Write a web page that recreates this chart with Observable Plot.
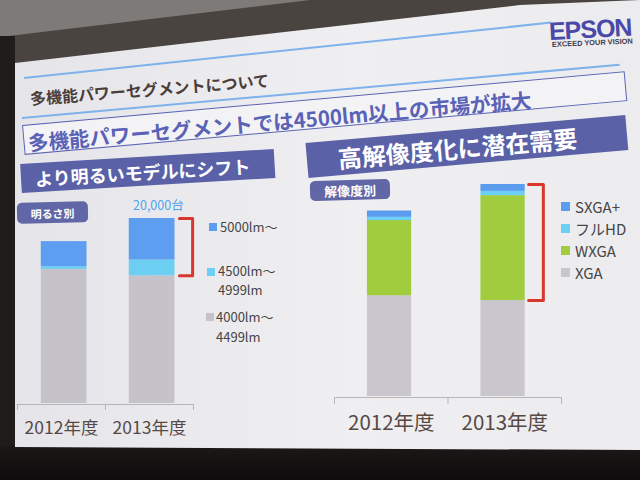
<!DOCTYPE html>
<html>
<head>
<meta charset="utf-8">
<script src="https://cdn.jsdelivr.net/npm/d3@7"></script>
<script src="https://cdn.jsdelivr.net/npm/@observablehq/plot@0.6"></script>
<style>
  html, body { margin: 0; padding: 0; }
  body { width: 640px; height: 480px; overflow: hidden; position: relative;
         background: #4a4440; font-family: "Noto Sans CJK JP", "Noto Sans", sans-serif; }
  .abs { position: absolute; }
  #housing { left: 0; top: 0; width: 640px; height: 480px; background: #7d7a77;
             clip-path: polygon(0px 0px, 310px 0px, 0px 37px); }
  #leftstrip { left: 0; top: 36px; width: 15px; height: 444px; background: #1f1c1b; }
  #bottom { left: 0; top: 446px; width: 640px; height: 34px; background: linear-gradient(#1b1817, #0e0c0c); }
  #slide { left: 0; top: 0; width: 640px; height: 480px;
           background: linear-gradient(to right, #e5e5e9, #efeff2 55%, #ececef);
           clip-path: polygon(15px 63px, 520px 5px, 640px 0px, 640px 450px, 15px 447px); }
  .rot { transform-origin: 0 50%; white-space: nowrap; }
  .line { height: 2px; background: #7fb2ea; }
  .banner { background: #5a61a7; color: #fff; font-weight: 700; box-sizing: border-box; display: flex; align-items: center; }
  .tag { background: #6166a6; color: #fff; font-weight: 700; border-radius: 5px; display: flex; align-items: center; justify-content: center; }
  .sq { width: 8px; height: 8px; }
  .lg { color: #474545; white-space: nowrap; line-height: 1; }
</style>
</head>
<body>
<div id="housing" class="abs"></div>
<div id="leftstrip" class="abs"></div>
<div id="bottom" class="abs"></div>
<div id="slide" class="abs"></div>

<!-- header -->
<div class="abs rot line" style="left:24px; top:77px; width:530px; transform: rotate(-6deg);"></div>
<div class="abs rot" style="left:30px; top:87px; height:22px; line-height:22px; font-size:16px; font-weight:700; color:#4b3d3a; transform: rotate(-4.4deg);">多機能パワーセグメントについて</div>
<div class="abs rot line" style="left:22px; top:117px; width:600px; transform: rotate(-5.1deg);"></div>
<div class="abs" style="left:22px; top:125px; width:605px; height:30px; box-sizing:border-box; border:1.5px solid #5c63b3; background:#f3f3f6; transform-origin: 0 0; transform: rotate(-5.1deg);"></div>
<div class="abs rot" style="left:28px; top:128px; height:28px; line-height:28px; font-size:20.5px; font-weight:700; color:#5a62b6; transform: rotate(-4.9deg);">多機能パワーセグメントでは4500lm以上の市場が拡大</div>
<div class="abs rot banner" style="left:21px; top:164px; width:254px; height:29px; padding-left:14px; font-size:18px; transform: rotate(-3.4deg);">より明るいモデルにシフト</div>
<div class="abs rot banner" style="left:307px; top:143px; width:321px; height:35px; padding-left:31px; font-size:24px; transform: rotate(-5deg);">高解像度化に潜在需要</div>

<!-- logo -->
<div class="abs" style="left:549px; top:17px; font-family:'Liberation Sans', Arial, sans-serif; font-weight:700; font-size:25px; letter-spacing:-1px; color:#4a49a8; transform-origin:0 50%; transform: rotate(-3deg);">EPSON</div>
<div class="abs" style="left:552px; top:40px; font-family:'Liberation Sans', Arial, sans-serif; font-weight:700; font-size:7.4px; color:#3d3d4a; white-space:nowrap; transform-origin:0 50%; transform: rotate(-2.5deg);">EXCEED YOUR VISION</div>

<!-- tags -->
<div class="abs tag" style="left:17px; top:202px; width:71px; height:21px; font-size:11px; transform: rotate(-1.3deg);">明るさ別</div>
<div class="abs tag" style="left:310px; top:180px; width:80px; height:20px; font-size:13px; transform: rotate(-1.5deg);">解像度別</div>

<div id="total" class="abs" style="left:133px; top:197px; font-size:12.5px; color:#4fa3ee; line-height:16px;"></div>

<div id="leftChart" class="abs" style="left:12px; top:190px;"></div>
<div id="rightChart" class="abs" style="left:329px; top:160px;"></div>
<div id="leftLegend"></div>
<div id="rightLegend"></div>

<script>
// ---------- data ----------
const years = ["2012年度", "2013年度"];

// brightness segments (units)
const brightNames = ["4000lm～4499lm", "4500lm～4999lm", "5000lm～"];
const bright4000 = [14500, 13800];
const bright4500 = [300, 1700];
const bright5000 = [2700, 4500];
const brightColors = ["#c5c3c9", "#6ccff2", "#5e9ef0"];
const brightLegendLines = [["5000lm～"], ["4500lm～", "4999lm"], ["4000lm～", "4499lm"]];

// resolution segments (units)
const resNames = ["XGA", "WXGA", "フルHD", "SXGA+"];
const resXGA = [9500, 9050];
const resWXGA = [7100, 9900];
const resFullHD = [300, 400];
const resSXGA = [600, 650];
const resColors = ["#c9c7cd", "#a1cc3e", "#6bd0f3", "#5b9cee"];

const totalLabel = "20,000台";

// ---------- helpers ----------
function stackRows(seriesList, names) {
  const rows = [];
  years.forEach((yr, i) => {
    let acc = 0;
    seriesList.forEach((s, k) => {
      rows.push({i, year: yr, seg: names[k], y1: acc, y2: acc + s[i]});
      acc += s[i];
    });
  });
  return rows;
}
const axisColor = "#b8b4ba";
const labelColor = "#574844";
const bracketColor = "#d8372c";
const font = "'Noto Sans CJK JP', 'Noto Sans', sans-serif";

// ---------- left chart ----------
const leftRows = stackRows([bright4000, bright4500, bright5000], brightNames);
const leftTotal2013 = bright4000[1] + bright4500[1] + bright5000[1];
const leftBracket = [[1.34, leftTotal2013], [1.49, leftTotal2013], [1.49, bright4000[1]], [1.34, bright4000[1]]];

const leftChart = Plot.plot({
  width: 186, height: 260,
  marginLeft: 5, marginRight: 5, marginTop: 28, marginBottom: 47,
  x: {domain: [-0.5, 1.5], axis: null},
  y: {domain: [0, 20000], axis: null},
  color: {domain: brightNames, range: brightColors},
  style: {background: "transparent", fontFamily: font, overflow: "visible"},
  marks: [
    Plot.rectY(leftRows, {x1: d => d.i - 0.23, x2: d => d.i + 0.29, y1: "y1", y2: "y2", fill: "seg"}),
    Plot.ruleY([0], {stroke: axisColor, dy: 1}),
    Plot.axisX([-0.5, 0.5, 1.5], {tickSize: 6, tickFormat: () => "", stroke: axisColor, dy: 1, label: null}),
    Plot.text(years, {x: (d, i) => i, text: d => d, frameAnchor: "bottom", dy: 30, fontSize: 17.5, fill: labelColor}),
    Plot.line(leftBracket, {x: d => d[0], y: d => d[1], stroke: bracketColor, strokeWidth: 3, strokeLinejoin: "round"})
  ]
});
document.getElementById("leftChart").append(leftChart);

// ---------- right chart ----------
const rightRows = stackRows([resXGA, resWXGA, resFullHD, resSXGA], resNames);
const rightTotal2013 = resXGA[1] + resWXGA[1] + resFullHD[1] + resSXGA[1];
const rightBracket = [[1.21, rightTotal2013], [1.34, rightTotal2013], [1.34, resXGA[1]], [1.21, resXGA[1]]];

const rightChart = Plot.plot({
  width: 237, height: 290,
  marginLeft: 5, marginRight: 5, marginTop: 24, marginBottom: 54,
  x: {domain: [-0.5, 1.5], axis: null},
  y: {domain: [0, 20000], axis: null},
  color: {domain: resNames, range: resColors},
  style: {background: "transparent", fontFamily: font, overflow: "visible"},
  marks: [
    Plot.rectY(rightRows, {x1: d => d.i - 0.21, x2: d => d.i + 0.18, y1: "y1", y2: "y2", fill: "seg"}),
    Plot.ruleY([0], {stroke: axisColor, dy: 1}),
    Plot.axisX([-0.5, 0.5, 1.5], {tickSize: 7, tickFormat: () => "", stroke: axisColor, dy: 1, label: null}),
    Plot.text(years, {x: (d, i) => i, text: d => d, frameAnchor: "bottom", dy: 33, fontSize: 20.5, fill: labelColor}),
    Plot.line(rightBracket, {x: d => d[0], y: d => d[1], stroke: bracketColor, strokeWidth: 3, strokeLinejoin: "round"})
  ]
});
document.getElementById("rightChart").append(rightChart);

document.getElementById("total").textContent = totalLabel;

// ---------- legends ----------
const leftLegendPos = [ {sq: [209, 223], text: [[220, 227]]},
                        {sq: [207, 268], text: [[218, 271], [218, 290]]},
                        {sq: [206, 313], text: [[216, 317], [216, 337]]} ];
const leftLegendColors = [brightColors[2], brightColors[1], brightColors[0]];
const ll = document.getElementById("leftLegend");
brightLegendLines.forEach((lines, k) => {
  const p = leftLegendPos[k];
  const s = document.createElement("div");
  s.className = "abs sq";
  s.style.left = p.sq[0] + "px"; s.style.top = p.sq[1] + "px";
  s.style.background = leftLegendColors[k];
  ll.append(s);
  lines.forEach((t, j) => {
    const d = document.createElement("div");
    d.className = "abs lg";
    d.style.left = p.text[j][0] + "px"; d.style.top = (p.text[j][1] - 7) + "px";
    d.style.fontSize = "13px";
    d.textContent = t;
    ll.append(d);
  });
});

const rightLegendOrder = ["SXGA+", "フルHD", "WXGA", "XGA"];
const rightLegendY = [207, 229, 251, 273];
const rl = document.getElementById("rightLegend");
rightLegendOrder.forEach((name, k) => {
  const s = document.createElement("div");
  s.className = "abs";
  s.style.left = "561px"; s.style.top = (rightLegendY[k] - 5) + "px";
  s.style.width = "9px"; s.style.height = "9px";
  s.style.background = resColors[resNames.indexOf(name)];
  rl.append(s);
  const d = document.createElement("div");
  d.className = "abs lg";
  d.style.left = "575px"; d.style.top = (rightLegendY[k] - 8) + "px";
  d.style.fontSize = "15px";
  d.textContent = name;
  rl.append(d);
});
</script>
</body>
</html>
